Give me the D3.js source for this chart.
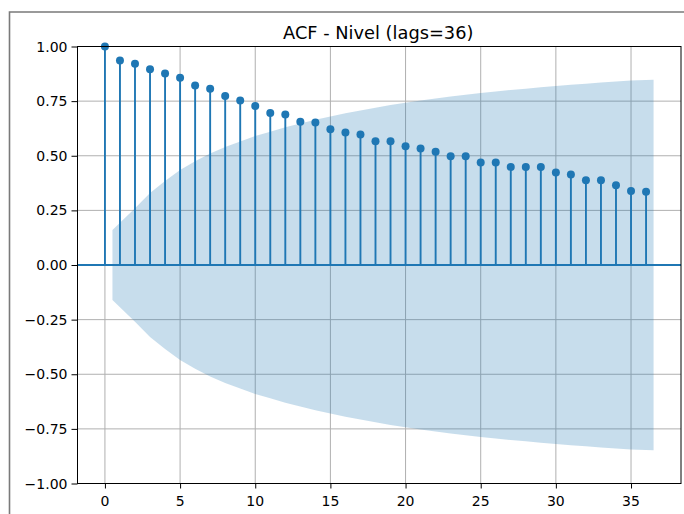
<!DOCTYPE html>
<html>
<head>
<meta charset="utf-8">
<script src="https://cdn.jsdelivr.net/npm/d3@7"></script>
<style>
  body { margin: 0; background: #fff; }
  svg { display: block; font-family: "DejaVu Sans", sans-serif; }
  .grid line { stroke: #b0b0b0; stroke-width: 1; }
</style>
</head>
<body>
<svg id="plot" width="684" height="514"></svg>
<script>
// lags and autocorrelation values
var lags = [0, 1, 2, 3, 4, 5, 6, 7, 8, 9, 10, 11, 12, 13, 14, 15, 16, 17, 18,
            19, 20, 21, 22, 23, 24, 25, 26, 27, 28, 29, 30, 31, 32, 33, 34, 35, 36];
var acfVals = [1.00, 0.936, 0.921, 0.896, 0.877, 0.857, 0.822, 0.807, 0.773, 0.753,
               0.728, 0.696, 0.689, 0.656, 0.652, 0.621, 0.606, 0.597, 0.566, 0.566,
               0.543, 0.533, 0.518, 0.498, 0.498, 0.469, 0.469, 0.449, 0.449, 0.449,
               0.423, 0.414, 0.388, 0.388, 0.365, 0.339, 0.335];
// confidence band (half width, centred on 0), first/last lag shifted by 0.5
var bandX = [0.5, 2, 3, 4, 5, 6, 7, 8, 9, 10, 11, 12, 13, 14, 15, 16, 17, 18,
             19, 20, 21, 22, 23, 24, 25, 26, 27, 28, 29, 30, 31, 32, 33, 34, 35, 36.5];
var bandHalf = [0.160, 0.260, 0.330, 0.385, 0.435, 0.475, 0.510, 0.540, 0.565, 0.590,
                0.610, 0.630, 0.648, 0.665, 0.680, 0.694, 0.707, 0.720, 0.732, 0.743,
                0.753, 0.762, 0.771, 0.779, 0.787, 0.794, 0.801, 0.807, 0.813, 0.819,
                0.825, 0.830, 0.835, 0.840, 0.844, 0.848];
var xTicks = [0, 5, 10, 15, 20, 25, 30, 35];
var yTicks = [-1.00, -0.75, -0.50, -0.25, 0.00, 0.25, 0.50, 0.75, 1.00];
var title = "ACF - Nivel (lags=36)";

var blue = "#1f77b4";
var svg = d3.select("#plot");
var plotL = 77.5, plotR = 681, plotT = 46.5, plotB = 483.5;

// outer frame of the screenshot
svg.append("path")
  .attr("d", "M9.5,514V12H684")
  .attr("fill", "none")
  .attr("stroke", "#7a7a7a")
  .attr("stroke-width", 1.6);

var x = d3.scaleLinear()
  .domain([-1.825, 38.325])
  .range([plotL, plotR]);

var y = d3.scaleLinear()
  .domain([-1, 1])
  .range([plotB, plotT]);

// grid
var grid = svg.append("g").attr("class", "grid");
grid.selectAll(".gx").data(xTicks).enter().append("line")
  .attr("x1", d => x(d)).attr("x2", d => x(d))
  .attr("y1", plotT).attr("y2", plotB);
grid.selectAll(".gy").data(yTicks).enter().append("line")
  .attr("y1", d => y(d)).attr("y2", d => y(d))
  .attr("x1", plotL).attr("x2", plotR);

// confidence band
var band = d3.area()
  .x(function(d, i) { return x(bandX[i]); })
  .y0(function(d) { return y(-d); })
  .y1(function(d) { return y(d); });

svg.append("path")
  .datum(bandHalf)
  .attr("d", band)
  .attr("fill", blue)
  .attr("fill-opacity", 0.25);

// zero line
svg.append("line")
  .attr("x1", plotL).attr("x2", plotR)
  .attr("y1", y(0)).attr("y2", y(0))
  .attr("stroke", blue)
  .attr("stroke-width", 2);

// stems
svg.append("g").selectAll("line")
  .data(acfVals)
  .enter().append("line")
  .attr("x1", (d, i) => x(lags[i])).attr("x2", (d, i) => x(lags[i]))
  .attr("y1", y(0)).attr("y2", d => y(d))
  .attr("stroke", blue)
  .attr("stroke-width", 1.9);

// markers
svg.append("g").selectAll("circle")
  .data(acfVals)
  .enter().append("circle")
  .attr("cx", (d, i) => x(lags[i]))
  .attr("cy", d => y(d))
  .attr("r", 4)
  .attr("fill", blue);

// axes: d3 draws the tick marks, labels are set in the plot font
var fmtMinus = d => d3.format(".2f")(d).replace("-", "\u2212");

svg.append("g")
  .attr("transform", "translate(0," + plotB + ")")
  .call(d3.axisBottom(x).tickValues(xTicks).tickSize(5).tickFormat(""))
  .call(g => g.select(".domain").remove());

svg.append("g")
  .attr("transform", "translate(" + plotL + ",0)")
  .call(d3.axisLeft(y).tickValues(yTicks).tickSize(6).tickFormat(""))
  .call(g => g.select(".domain").remove());

svg.append("g").selectAll("text")
  .data(xTicks)
  .enter().append("text")
  .attr("x", d => x(d))
  .attr("y", plotB + 22)
  .attr("text-anchor", "middle")
  .attr("font-size", "14px")
  .attr("fill", "#000")
  .text(d3.format("d"));

svg.append("g").selectAll("text")
  .data(yTicks)
  .enter().append("text")
  .attr("x", plotL - 10)
  .attr("y", d => y(d) + 5)
  .attr("text-anchor", "end")
  .attr("font-size", "14px")
  .attr("fill", "#000")
  .text(fmtMinus);

// spines
svg.append("rect")
  .attr("x", plotL).attr("y", plotT)
  .attr("width", plotR - plotL).attr("height", plotB - plotT)
  .attr("fill", "none")
  .attr("stroke", "#000")
  .attr("stroke-width", 1);

svg.append("text")
  .attr("x", (plotL + plotR) / 2 - 1)
  .attr("y", 39)
  .attr("text-anchor", "middle")
  .attr("font-size", "17.8px")
  .text(title);
</script>
</body>
</html>
